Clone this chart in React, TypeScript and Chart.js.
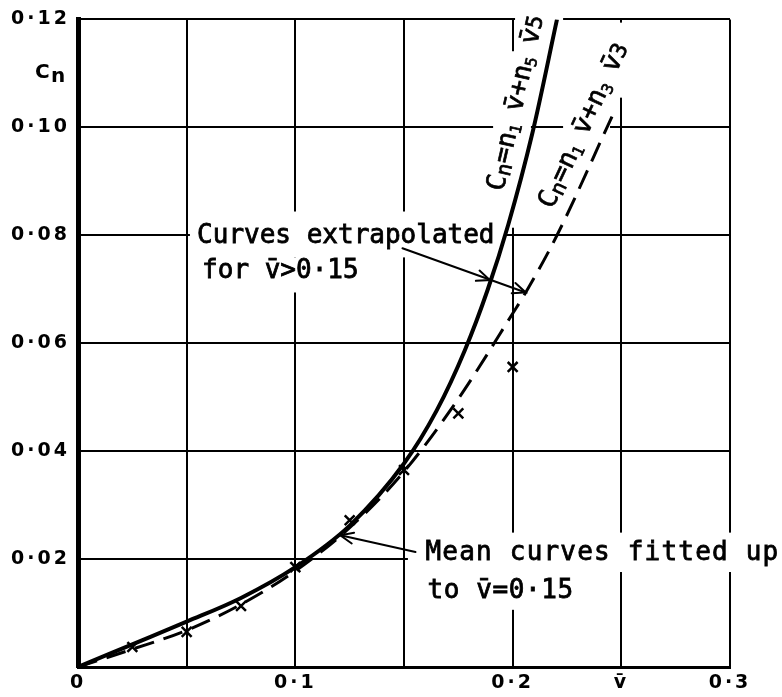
import React, { useEffect, useRef } from 'react';
import { Chart, registerables } from 'chart.js';

Chart.register(...registerables);

// ---- axes ----
const X_MIN = 0;
const X_MAX = 0.3;
const X_STEP = 0.05;
const Y_MIN = 0;
const Y_MAX = 0.12;
const Y_STEP = 0.02;
const X_TICK_LABELS = ['0', '', '0·1', '', '0·2', 'v\u0304', '0·3'];
const Y_TICK_LABELS = ['', '0·02', '0·04', '0·06', '0·08', '0·10', '0·12'];

// ---- series ----
// Cn = n1 v + n5 v^5 (solid)
const SOLID_X = [0, 0.025, 0.05, 0.075, 0.1, 0.125, 0.15, 0.165, 0.178, 0.1885, 0.198, 0.209, 0.2204];
const SOLID_Y = [0, 0.0042, 0.0084, 0.0128, 0.0185, 0.0262, 0.0377, 0.0475, 0.0587, 0.0699, 0.082, 0.0988, 0.12];
// Cn = n1 v + n3 v^3 (dashed)
const DASHED_X = [0, 0.025, 0.05, 0.075, 0.1, 0.125, 0.15, 0.175, 0.2, 0.206, 0.2204, 0.2457];
const DASHED_Y = [0, 0.0033, 0.0068, 0.0116, 0.0178, 0.0258, 0.0362, 0.0497, 0.0655, 0.0694, 0.08, 0.102];
// measured points (x marks)
const TEST_X = [0.025, 0.05, 0.075, 0.1, 0.125, 0.15, 0.175, 0.2];
const TEST_Y = [0.0037, 0.0065, 0.0113, 0.0185, 0.0272, 0.0365, 0.047, 0.0556];

// ---- annotation texts (positions in data units) ----
const NOTE_TEXTS = ['Curves extrapolated', 'for v\u0304>0·15', 'Mean curves fitted up', 'to v\u0304=0·15'];
const NOTE_X = [0.0548, 0.0571, 0.1599, 0.1608];
const NOTE_Y = [0.0785, 0.0721, 0.0198, 0.0128];
const NOTE_SPACING = [0, 0, 1.2, 0.6];

// arrows: from -> to, optional mid arrowhead
const ARROWS = [
  { from: [0.1493, 0.0776], to: [0.206, 0.0694], mid: [0.1895, 0.0717] },
  { from: [0.1553, 0.0213], to: [0.1207, 0.0244], mid: null as null | number[] },
];

// rotated curve labels
type Seg = { t: string; s: number; dy: number };
const LABEL_N5: Seg[] = [
  { t: 'C', s: 1, dy: 0 }, { t: 'n', s: 0.8, dy: 0.12 }, { t: '=', s: 1, dy: 0 }, { t: 'n', s: 1, dy: 0 },
  { t: '1', s: 0.6, dy: 0.15 }, { t: ' ', s: 0.8, dy: 0 }, { t: 'v\u0304', s: 1, dy: 0 }, { t: '+', s: 1, dy: 0 },
  { t: 'n', s: 1, dy: 0 }, { t: '5', s: 0.6, dy: 0.15 }, { t: ' ', s: 0.8, dy: 0 }, { t: 'v\u0304', s: 1, dy: 0 },
  { t: '5', s: 0.85, dy: 0 },
];
const LABEL_N3: Seg[] = [
  { t: 'C', s: 1, dy: 0 }, { t: 'n', s: 0.8, dy: 0.12 }, { t: '=', s: 1, dy: 0 }, { t: 'n', s: 1, dy: 0 },
  { t: '1', s: 0.6, dy: 0.15 }, { t: ' ', s: 0.8, dy: 0 }, { t: 'v\u0304', s: 1, dy: 0 }, { t: '+', s: 1, dy: 0 },
  { t: 'n', s: 1, dy: 0 }, { t: '3', s: 0.6, dy: 0.15 }, { t: ' ', s: 0.8, dy: 0 }, { t: 'v\u0304', s: 1, dy: 0 },
  { t: '3', s: 0.85, dy: 0 },
];
const CURVE_LABELS = [
  { segs: LABEL_N5, x: 0.2006, y: 0.1046, angle: -77 },
  { segs: LABEL_N3, x: 0.2319, y: 0.1005, angle: -65 },
];

// gaps in the grid where the lettering sits: [x0, x1, y0, y1] data units
const GAPS = [
  [0.0515, 0.1969, 0.0759, 0.0844],
  [0.0515, 0.139, 0.0694, 0.0759],
  [0.1518, 0.3239, 0.0176, 0.0249],
  [0.1518, 0.2333, 0.0106, 0.0176],
  [0.1965, 0.2034, 0.0814, 0.1141],
  [0.2462, 0.2535, 0.1055, 0.1194],
  [0.191, 0.2084, 0.0978, 0.1011],
  [0.2232, 0.2448, 0.0978, 0.1011],
  [0.2011, 0.2232, 0.1193, 0.121],
];

const toXY = (xs: number[], ys: number[]) => xs.map((x, i) => ({ x, y: ys[i] }));

const MONO = '"DejaVu Sans Mono", "Liberation Mono", monospace';

function drawHead(ctx: CanvasRenderingContext2D, x: number, y: number, ang: number) {
  const len = 14;
  const spread = 0.4;
  ctx.beginPath();
  ctx.moveTo(x - len * Math.cos(ang - spread), y - len * Math.sin(ang - spread));
  ctx.lineTo(x, y);
  ctx.lineTo(x - len * Math.cos(ang + spread), y - len * Math.sin(ang + spread));
  ctx.stroke();
}

function heavyText(ctx: CanvasRenderingContext2D, t: string, x: number, y: number) {
  ctx.fillText(t, x, y);
  ctx.strokeText(t, x, y);
}

function drawSegs(ctx: CanvasRenderingContext2D, segs: Seg[], cx: number, cy: number, angDeg: number, size: number) {
  ctx.save();
  ctx.translate(cx, cy);
  ctx.rotate((angDeg * Math.PI) / 180);
  ctx.textAlign = 'left';
  ctx.textBaseline = 'alphabetic';
  ctx.lineWidth = 0.7;
  let total = 0;
  const widths: number[] = [];
  for (const s of segs) {
    ctx.font = `${size * s.s}px ${MONO}`;
    const w = ctx.measureText(s.t).width;
    widths.push(w);
    total += w;
  }
  let xx = -total / 2;
  segs.forEach((s, i) => {
    ctx.font = `${size * s.s}px ${MONO}`;
    heavyText(ctx, s.t, xx, size * 0.36 + s.dy * size);
    xx += widths[i];
  });
  ctx.restore();
}

const annotate = {
  id: 'annotate',
  beforeDraw(chart: any) {
    chart.ctx.letterSpacing = '3px';
  },
  beforeDatasetsDraw(chart: any) {
    const { ctx, scales } = chart;
    const xs = scales.x;
    const ys = scales.y;
    ctx.save();
    ctx.fillStyle = '#ffffff';
    for (const g of GAPS) {
      const x0 = xs.getPixelForValue(g[0]);
      const x1 = xs.getPixelForValue(g[1]);
      const y0 = ys.getPixelForValue(g[3]);
      const y1 = ys.getPixelForValue(g[2]);
      ctx.fillRect(x0, y0, x1 - x0, y1 - y0);
    }
    ctx.restore();
  },
  afterDatasetsDraw(chart: any) {
    const { ctx, scales, chartArea } = chart;
    const xs = scales.x;
    const ys = scales.y;
    const px = (v: number) => xs.getPixelForValue(v);
    const py = (v: number) => ys.getPixelForValue(v);
    ctx.save();
    ctx.fillStyle = '#000';
    ctx.strokeStyle = '#000';
    ctx.textAlign = 'left';
    ctx.textBaseline = 'alphabetic';
    ctx.font = `26px ${MONO}`;
    ctx.lineWidth = 0.8;
    NOTE_TEXTS.forEach((t, i) => {
      ctx.letterSpacing = `${NOTE_SPACING[i]}px`;
      heavyText(ctx, t, px(NOTE_X[i]), py(NOTE_Y[i]));
    });
    ctx.letterSpacing = '0px';

    // arrows
    ctx.lineWidth = 2;
    ctx.lineCap = 'round';
    for (const a of ARROWS) {
      const x0 = px(a.from[0]), y0 = py(a.from[1]);
      const x1 = px(a.to[0]), y1 = py(a.to[1]);
      ctx.beginPath();
      ctx.moveTo(x0, y0);
      ctx.lineTo(x1, y1);
      ctx.stroke();
      const ang = Math.atan2(y1 - y0, x1 - x0);
      drawHead(ctx, x1, y1, ang);
      if (a.mid) drawHead(ctx, px(a.mid[0]), py(a.mid[1]), ang);
    }

    // rotated curve labels
    for (const l of CURVE_LABELS) {
      drawSegs(ctx, l.segs, px(l.x), py(l.y), l.angle, 26);
    }

    // y axis title Cn
    const yp = py(0.11);
    ctx.font = `bold 20px "DejaVu Sans", sans-serif`;
    ctx.fillText('C', chartArea.left - 43, yp + 5);
    ctx.fillText('n', chartArea.left - 27, yp + 9);
    ctx.restore();
  },
  afterDraw(chart: any) {
    chart.ctx.letterSpacing = '0px';
  },
};

export default function App() {
  const ref = useRef<HTMLCanvasElement>(null);
  useEffect(() => {
    const canvas = ref.current!;
    const tickFont = { family: '"DejaVu Sans", sans-serif', weight: 'bold' as const, size: 19 };
    const chart = new Chart(canvas, {
      type: 'line',
      data: {
        datasets: [
          {
            label: 'n1 v + n5 v^5',
            data: toXY(SOLID_X, SOLID_Y),
            borderColor: '#000',
            borderWidth: 4,
            pointRadius: 0,
            cubicInterpolationMode: 'monotone',
            fill: false,
          },
          {
            label: 'n1 v + n3 v^3',
            data: toXY(DASHED_X, DASHED_Y),
            borderColor: '#000',
            borderWidth: 3,
            borderDash: [20, 10],
            pointRadius: 0,
            cubicInterpolationMode: 'monotone',
            fill: false,
          },
          {
            type: 'scatter',
            label: 'measured',
            data: toXY(TEST_X, TEST_Y),
            pointStyle: 'crossRot',
            pointRadius: 7,
            borderColor: '#000',
            borderWidth: 2.5,
            showLine: false,
          } as any,
        ],
      },
      options: {
        animation: false,
        responsive: false,
        events: [],
        layout: { padding: { top: 19, right: 52, left: 0, bottom: 0 } },
        plugins: { legend: { display: false }, tooltip: { enabled: false } },
        scales: {
          x: {
            type: 'linear',
            min: X_MIN,
            max: X_MAX,
            ticks: {
              stepSize: X_STEP,
              autoSkip: false,
              maxRotation: 0,
              padding: 5,
              color: '#000',
              font: tickFont,
              callback: (v: any) => X_TICK_LABELS[Math.round(Number(v) / X_STEP)] ?? '',
            },
            grid: { color: '#000', lineWidth: 2, drawTicks: false },
            border: { color: '#000', width: 3 },
            afterFit: (s: any) => {
              s.height = 30;
            },
          },
          y: {
            type: 'linear',
            min: Y_MIN,
            max: Y_MAX,
            ticks: {
              stepSize: Y_STEP,
              autoSkip: false,
              padding: 8,
              color: '#000',
              font: tickFont,
              callback: (v: any) => Y_TICK_LABELS[Math.round(Number(v) / Y_STEP)] ?? '',
            },
            grid: { color: '#000', lineWidth: 2, drawTicks: false },
            border: { color: '#000', width: 5 },
            afterFit: (s: any) => {
              s.width = 78;
            },
          },
        },
      },
      plugins: [annotate as any],
    });
    return () => chart.destroy();
  }, []);
  return (
    <div style={{ position: 'absolute', left: 0, top: 0, width: 782, height: 697, background: '#fff' }}>
      <canvas ref={ref} width={782} height={697} style={{ display: 'block' }} />
    </div>
  );
}
